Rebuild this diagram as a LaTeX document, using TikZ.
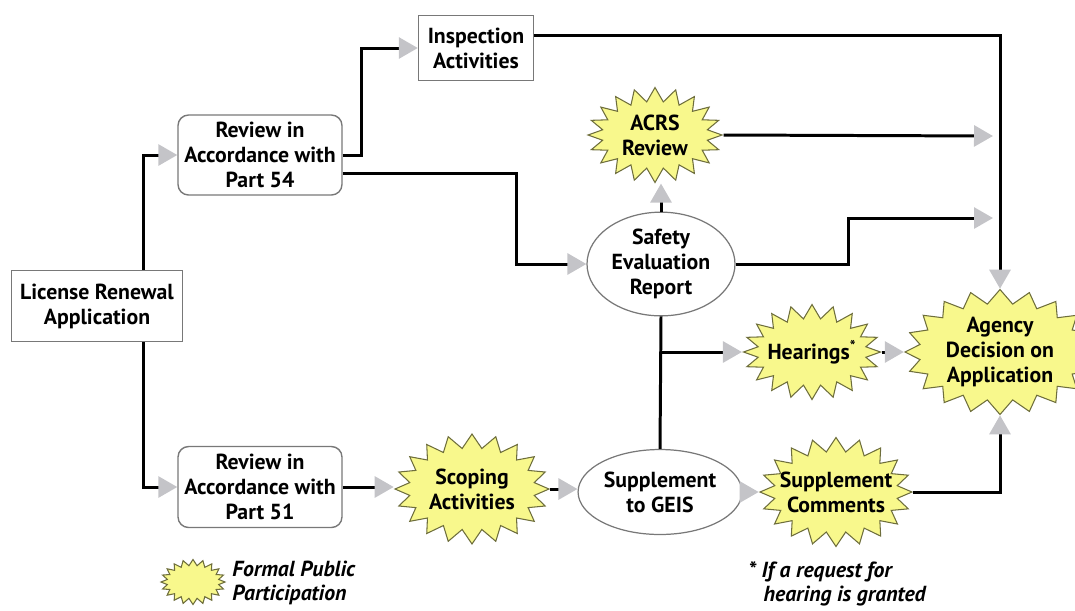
\documentclass[tikz,border=0pt]{standalone}
\usepackage{fontspec}
\setmainfont{PT Sans}
\usetikzlibrary{positioning,arrows.meta,shapes.geometric,shapes.symbols}
\definecolor{starc}{RGB}{248,248,140}
\definecolor{starline}{RGB}{110,110,60}
\definecolor{headc}{RGB}{196,196,200}
\definecolor{edgec}{RGB}{120,120,120}

\begin{document}
\begin{tikzpicture}[
  x=0.02cm, y=-0.02cm,
  font=\fontsize{12.4}{14.2}\selectfont\bfseries,
  box/.style 2 args={
    rectangle, draw=edgec, fill=white, line width=0.8pt,
    align=center, inner sep=2pt, minimum width=#1, minimum height=#2
  },
  rbox/.style 2 args={box={#1}{#2}, rounded corners=6pt},
  oval/.style 2 args={
    ellipse, draw=edgec, fill=white, line width=0.7pt,
    align=center, inner sep=1pt, minimum width=#1, minimum height=#2
  },
  burst/.style 2 args={
    starburst, starburst points=20, starburst point height=0.28cm,
    random starburst=0, draw=starline, fill=starc, line width=0.6pt,
    align=center, inner xsep=-0.6cm, inner ysep=-0.3cm,
    minimum width=#1, minimum height=#2
  },
  arr/.style={-{Triangle[length=0.38cm, width=0.42cm, color=headc]}, line width=1.7pt},
  ln/.style={line width=1.7pt},
  note/.style={font=\fontsize{12.4}{13.4}\selectfont\bfseries\itshape, align=left, inner sep=0pt},
]
\useasboundingbox (0,0) rectangle (1075,610);

% ---- left: application and the two reviews ----
\node[box={3.42cm}{1.42cm}] (lra) at (97,306) {License Renewal\\Application};
\node[rbox={3.28cm}{1.6cm}] (rev54) at (260,155) {Review in\\Accordance with\\Part 54};
\node[rbox={3.28cm}{1.62cm}] (rev51) at (260,487) {Review in\\Accordance with\\Part 51};

% ---- middle ----
\node[box={2.3cm}{1.3cm}] (insp) at (476,48) {Inspection\\Activities};
\node[burst={2.68cm}{1.9cm}] (acrs) at (655,135) {ACRS\\Review};
\node[oval={2.96cm}{1.76cm}] (ser) at (661,264) {Safety\\Evaluation\\Report};
\node[burst={3.08cm}{2.2cm}] (scop) at (472,489) {Scoping\\Activities};
\node[oval={2.94cm}{1.7cm}] (geis) at (660,492) {Supplement\\to GEIS};

% ---- right ----
\node[burst={2.74cm}{1.9cm}] (hear) at (812,352) {Hearings\textsuperscript{*}};
\node[burst={3.04cm}{2.18cm}] (supc) at (836,492) {Supplement\\Comments};
\node[burst={3.8cm}{2.5cm}] (agency) at (1000,352) {Agency\\Decision on\\Application};
\coordinate (inA) at (993,136);
\coordinate (inB) at (993,218);

% ---- legend and footnote ----
\node[burst={1.28cm}{0.9cm}, starburst point height=0.12cm, inner sep=0pt] (leg) at (193,582) {};
\node[note, anchor=west] (legtxt) at (232,583) {Formal Public\\Participation};
\node[note, anchor=west] (fnote) at (748,584) {* If a request for\\\hspace{0.7em}hearing is granted};

% ---- arrows ----
\draw[arr] ([xshift=0.94cm]lra.north) |- (rev54.west);
\draw[arr] ([xshift=0.94cm]lra.south) |- (rev51.west);
\draw[arr] (rev54.east) -- ++(19,0) |- (insp.west);
\draw[arr] ([yshift=-0.36cm]rev54.east) -- ++(174,0) |- (ser.west);
\draw[arr] ([yshift=0.26cm]insp.east) -| (agency.north);
\draw[arr] (acrs.east) -- (inA);
\draw[arr] (ser.north) -- (ser.north |- acrs.south);
\draw[arr] (ser.east) -- ++(113,0) |- (inB);
\draw[ln] (ser.south) -- (geis.north);
\draw[arr] (ser.south |- hear.west) -- (hear.west);
\draw[arr] (hear.east) -- (hear.east -| agency.west);
\draw[arr] (rev51.east) -- (rev51.east -| scop.west);
\draw[arr] (scop.east) -- (scop.east -| geis.west);
\draw[arr] (geis.east) -- (geis.east -| supc.west);
\draw[arr] (supc.east) -| (agency.south);

\end{tikzpicture}
\end{document}
